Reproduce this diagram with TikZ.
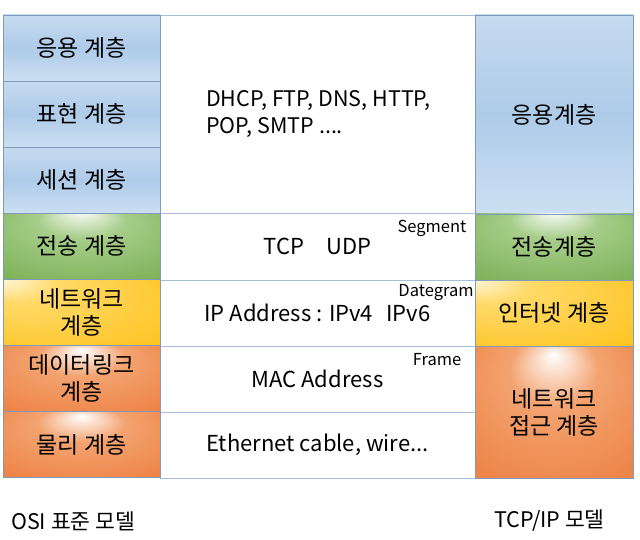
\documentclass[tikz,border=0pt]{standalone}
\usepackage{fontspec}
\setmainfont{Noto Sans CJK KR}
\usepackage{tikz}

\definecolor{bluetop}{HTML}{C6DAEF}
\definecolor{bluemid}{HTML}{AECBE9}
\definecolor{bluebot}{HTML}{CCDFF2}
\definecolor{greenedge}{HTML}{6CA642}
\definecolor{greenmid}{HTML}{A6CD8A}
\definecolor{yellowedge}{HTML}{FDBD0E}
\definecolor{yellowmid}{HTML}{FFDA68}
\definecolor{orangeedge}{HTML}{EB7330}
\definecolor{orangemid}{HTML}{F3A370}
\definecolor{cellline}{HTML}{7E9BBE}
\definecolor{midline}{HTML}{A5BFDC}

\pgfdeclareradialshading{greenglow}{\pgfpoint{0bp}{28bp}}{color(0bp)=(white); color(14bp)=(greenmid); color(50bp)=(greenedge)}
\pgfdeclareradialshading{yellowglow}{\pgfpoint{-30bp}{30bp}}{color(0bp)=(white); color(14bp)=(yellowmid); color(50bp)=(yellowedge)}
\pgfdeclareradialshading{orangeglow}{\pgfpoint{0bp}{22bp}}{color(0bp)=(white); color(14bp)=(orangemid); color(50bp)=(orangeedge)}

\tikzset{
  cell/.style={draw=cellline, line width=0.8pt, inner sep=0pt, align=center,
    font=\fontsize{23}{27}\selectfont},
  osicell/.style={cell, minimum width=157pt, minimum height=66.1pt},
  tcpcell/.style={cell, minimum width=158pt},
  midcell/.style={draw=midline, line width=0.8pt, inner sep=0pt, align=center,
    minimum width=315pt, font=\fontsize{22}{26}\selectfont},
  bluecell/.style={top color=bluetop, bottom color=bluebot, middle color=bluemid},
  unitlabel/.style={inner sep=0pt, font=\fontsize{16.5}{18}\selectfont},
  caption/.style={inner sep=0pt, anchor=west, font=\fontsize{21.5}{24}\selectfont}
}

\begin{document}
\begin{tikzpicture}[x=1pt,y=-1pt]
\useasboundingbox[fill=white] (0,0) rectangle (640,540);

% Middle column
\node[midcell, minimum height=198pt] (protocols) at (317.5,114) {};
\node[midcell, minimum height=67pt] (tcprow) at (317.5,246.5) {TCP\hspace{1em}UDP};
\node[midcell, minimum height=66pt] (iprow) at (317.5,313) {IP Address : IPv4\hspace{0.6em}IPv6};
\node[midcell, minimum height=66pt] (macrow) at (317.5,379) {MAC Address};
\node[midcell, minimum height=66pt] (wirerow) at (317.5,445) {Ethernet cable, wire...};
\node[inner sep=0pt, anchor=west, align=left, font=\fontsize{21.5}{27}\selectfont] (apptext) at (206,114.5) {DHCP, FTP, DNS,\ HTTP,\\POP, SMTP ....};

% Unit labels
\node[unitlabel] (segment) at (432,228) {Segment};
\node[unitlabel] (dategram) at (436,293) {Dategram};
\node[unitlabel] (frame) at (437,360) {Frame};

% OSI column
\node[osicell, bluecell] (osiapp) at (81.5,48.05) {응용 계층};
\node[osicell, bluecell] (osipres) at (81.5,114.15) {표현 계층};
\node[osicell, bluecell] (osisess) at (81.5,180.25) {세션 계층};
\node[osicell, shading=greenglow] (ositrans) at (81.5,246.35) {전송 계층};
\node[osicell, shading=yellowglow] (osinet) at (81.5,312.45) {네트워크\\계층};
\node[osicell, shading=orangeglow] (osilink) at (81.5,378.55) {데이터링크\\계층};
\node[osicell, shading=orangeglow] (osiphys) at (81.5,444.65) {물리 계층};

% TCP/IP column
\node[tcpcell, bluecell, minimum height=199pt] (tcpapp) at (554,114.5) {응용계층};
\node[tcpcell, shading=greenglow, minimum height=66pt] (tcptrans) at (554,247) {전송계층};
\node[tcpcell, shading=yellowglow, minimum height=66pt] (tcpnet) at (554,313) {인터넷 계층};
\node[tcpcell, shading=orangeglow, minimum height=132pt] (tcplink) at (554,412) {네트워크\\접근 계층};

% Captions
\node[caption] (osiname) at (11,521) {OSI 표준 모델};
\node[caption] (tcpname) at (494,521) {TCP/IP 모델};
\end{tikzpicture}
\end{document}
